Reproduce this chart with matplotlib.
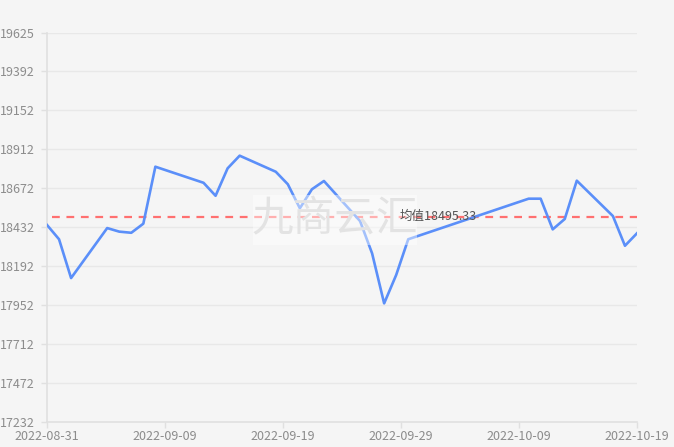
import numpy as np
import pandas as pd
import matplotlib
matplotlib.use("Agg")
import matplotlib.pyplot as plt
from matplotlib.patches import Rectangle

plt.rcParams['font.family'] = ['Noto Sans CJK SC', 'DejaVu Sans']

# data
dates = ["2022-08-31", "2022-09-01", "2022-09-02", "2022-09-05", "2022-09-06",
         "2022-09-07", "2022-09-08", "2022-09-09", "2022-09-13", "2022-09-14",
         "2022-09-15", "2022-09-16", "2022-09-19", "2022-09-20", "2022-09-21",
         "2022-09-22", "2022-09-23", "2022-09-26", "2022-09-27", "2022-09-28",
         "2022-09-29", "2022-09-30", "2022-10-10", "2022-10-11", "2022-10-12",
         "2022-10-13", "2022-10-14", "2022-10-17", "2022-10-18", "2022-10-19"]
prices = [18444, 18356, 18117, 18425, 18403, 18396, 18452, 18803, 18704, 18624,
          18793, 18871, 18772, 18695, 18547, 18664, 18715, 18468, 18269, 17961,
          18136, 18356, 18606, 18606, 18417, 18481, 18717, 18499, 18316, 18393]
mean_value = 18495.33
y_ticks = [17232, 17472, 17712, 17952, 18192, 18432, 18672, 18912, 19152, 19392, 19625]

d = pd.to_datetime(dates)
start = d[0]
x = (d - start).days.values

fig = plt.figure(figsize=(6.74, 4.47), dpi=100)
fig.patch.set_facecolor("#f5f5f5")
ax = fig.add_axes([47/674, 25.3/447, 590/674, 388.4/447])
ax.set_facecolor("#f5f5f5")

ax.plot(x, prices, color="#5b8ff9", linewidth=1.9, zorder=3)

# mean line
ax.plot([0.4, x[-1]], [mean_value, mean_value], color="#ff7070", linewidth=1.6,
        linestyle=(0, (3.5, 3)), zorder=2)
ax.text(29.3, mean_value, "均值" + f"{mean_value:.2f}", fontsize=9, color="#555555",
        va="center", ha="left", zorder=5)

# watermark
ax.add_patch(Rectangle((0.349, 0.455), 0.278, 0.129, transform=ax.transAxes,
                       facecolor="white", alpha=0.45, edgecolor="none", zorder=4))
ax.text(0.488, 0.519, "九商云汇", transform=ax.transAxes, fontsize=30,
        color="#e3e3e3", ha="center", va="center", zorder=4)

ax.set_xlim(0, x[-1])
ax.set_ylim(y_ticks[0], y_ticks[-1])
ax.set_yticks(y_ticks)
ax.set_yticklabels([str(v) for v in y_ticks])

xt = np.linspace(0, x[-1], 6)
ax.set_xticks(xt)
ax.set_xticklabels([(start + pd.Timedelta(days=int(np.floor(t + 1e-6)))).strftime("%Y-%m-%d") for t in xt])

ax.grid(axis="y", color="#e8e8e8", linewidth=1)
ax.set_axisbelow(True)
for s in ["top", "right"]:
    ax.spines[s].set_visible(False)
ax.spines["left"].set_color("#e0e0e0")
ax.spines["bottom"].set_color("#e0e0e0")
ax.spines["left"].set_linewidth(1.2)
ax.spines["bottom"].set_linewidth(1.2)
ax.tick_params(axis="both", colors="#e0e0e0", labelcolor="#8c8c8c", labelsize=9,
               length=4, width=1)
ax.tick_params(axis="y", pad=5)
ax.tick_params(axis="x", pad=2)

fig.savefig("out.png", dpi=100, facecolor=fig.get_facecolor())
